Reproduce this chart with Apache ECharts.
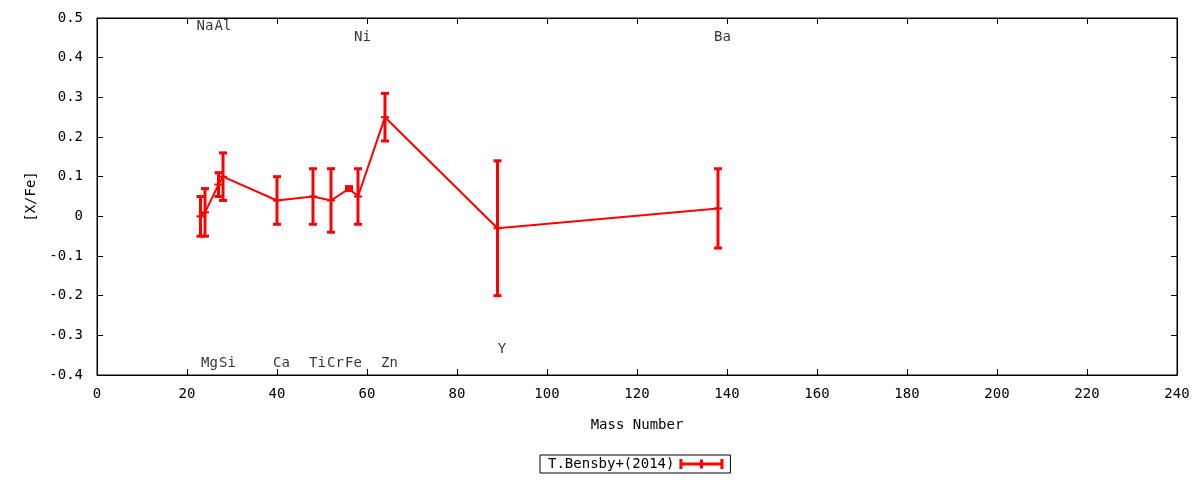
<!DOCTYPE html>
<html>
<head>
<meta charset="utf-8">
<script src="https://cdn.jsdelivr.net/npm/echarts@6/dist/echarts.min.js"></script>
<style>
html,body{margin:0;padding:0;background:#fff;}
#chart{width:1200px;height:480px;}
</style>
</head>
<body>
<div id="chart"></div>
<script>
// Data
const elements = ['Na','Mg','Al','Si','Ca','Ti','Cr','Fe','Ni','Zn','Y','Ba'];
const masses = [23,24,27,28,40,48,52,56,58,64,89,138];
const values = [0.00,0.01,0.08,0.10,0.04,0.05,0.04,0.07,0.05,0.25,-0.03,0.02];
const errors = [0.05,0.06,0.03,0.06,0.06,0.07,0.08,0.005,0.07,0.06,0.17,0.10];
// Element label anchor positions
const labelX = [24,25,28,29,41,49,53,57,59,65,90,139];
const labelY = [0.48,-0.37,0.48,-0.37,-0.37,-0.37,-0.37,-0.37,0.45,-0.37,-0.335,0.45];
const xTicks = [0,240,20];
const yTicks = [-0.4,0.5,0.1];
const seriesName = 'T.Bensby+(2014)';

const FONT = 'DejaVu Sans Mono';
const RED = '#ff0000';
const chart = echarts.init(document.getElementById('chart'), null, {renderer:'canvas'});

function axisCommon(){
  return {
    axisLine:{show:true, onZero:false, lineStyle:{color:'#000', width:1}},
    axisTick:{show:true, inside:true, length:6, lineStyle:{color:'#000', width:1}},
    splitLine:{show:false}
  };
}

const option = {
  backgroundColor:'#fff',
  animation:false,
  grid:{left:97, right:23, top:18, bottom:105, show:true, borderColor:'#000', borderWidth:1},
  legend:{
    data:[{name:seriesName, icon:'path://M0,3.5h44v3h-44z M0,0h3v10h-3z M41,0h3v10h-3z M20.5,0.5h3v9h-3z'}],
    left:540, top:455,
    align:'right',
    itemWidth:44, itemHeight:10,
    padding:[2,7,2,8],
    borderColor:'#000', borderWidth:1, borderRadius:0,
    itemStyle:{color:RED, borderWidth:0},
    textStyle:{fontFamily:FONT, fontSize:14, color:'#000'}
  },
  xAxis:[
    Object.assign({
      type:'value', min:xTicks[0], max:xTicks[1], interval:xTicks[2], position:'bottom',
      name:'Mass Number', nameLocation:'middle', nameGap:43,
      nameTextStyle:{fontFamily:FONT, fontSize:14, color:'#000'},
      axisLabel:{fontFamily:FONT, fontSize:14, color:'#000', margin:12}
    }, axisCommon()),
    Object.assign({
      type:'value', min:xTicks[0], max:xTicks[1], interval:xTicks[2], position:'top',
      axisLabel:{show:false}
    }, axisCommon())
  ],
  yAxis:[
    Object.assign({
      type:'value', min:yTicks[0], max:yTicks[1], interval:yTicks[2], position:'left',
      name:'[X/Fe]', nameLocation:'middle', nameGap:58, nameRotate:90,
      nameTextStyle:{fontFamily:FONT, fontSize:14, color:'#000'},
      axisLabel:{fontFamily:FONT, fontSize:14, color:'#000', margin:14, padding:[4,0,0,0],
        formatter:function(v){ return Math.abs(v)<1e-9 ? '0' : v.toFixed(1); }}
    }, axisCommon()),
    Object.assign({
      type:'value', min:yTicks[0], max:yTicks[1], interval:yTicks[2], position:'right',
      axisLabel:{show:false}
    }, axisCommon())
  ],
  series:[
    {
      name:seriesName,
      type:'line',
      data:masses.map((m,i)=>[m, values[i]]),
      symbol:'none',
      lineStyle:{color:RED, width:2},
      itemStyle:{color:RED},
      z:2
    },
    {
      name:'errbars',
      type:'custom',
      data:masses.map((m,i)=>[m, values[i], errors[i]]),
      renderItem:function(params, api){
        const x = api.value(0), v = api.value(1), e = api.value(2);
        const t = api.coord([x, v+e]);
        const b = api.coord([x, v-e]);
        const c = api.coord([x, v]);
        const w = 4;
        const st = {stroke:RED, lineWidth:3};
        return {type:'group', children:[
          {type:'line', shape:{x1:t[0], y1:t[1], x2:b[0], y2:b[1]}, style:st},
          {type:'line', shape:{x1:t[0]-w, y1:t[1], x2:t[0]+w, y2:t[1]}, style:st},
          {type:'line', shape:{x1:b[0]-w, y1:b[1], x2:b[0]+w, y2:b[1]}, style:st},
          {type:'line', shape:{x1:c[0]-w, y1:c[1], x2:c[0]+w, y2:c[1]}, style:{stroke:RED, lineWidth:2}}
        ]};
      },
      z:3
    },
    {
      name:'labels',
      type:'scatter',
      data:elements.map((n,i)=>({name:n, value:[labelX[i], labelY[i]]})),
      symbolSize:0,
      label:{show:true, position:'inside', formatter:function(p){return p.name;},
        fontFamily:FONT, fontSize:14, color:'#000'},
      silent:true,
      z:4
    }
  ]
};
chart.setOption(option);
</script>
</body>
</html>
